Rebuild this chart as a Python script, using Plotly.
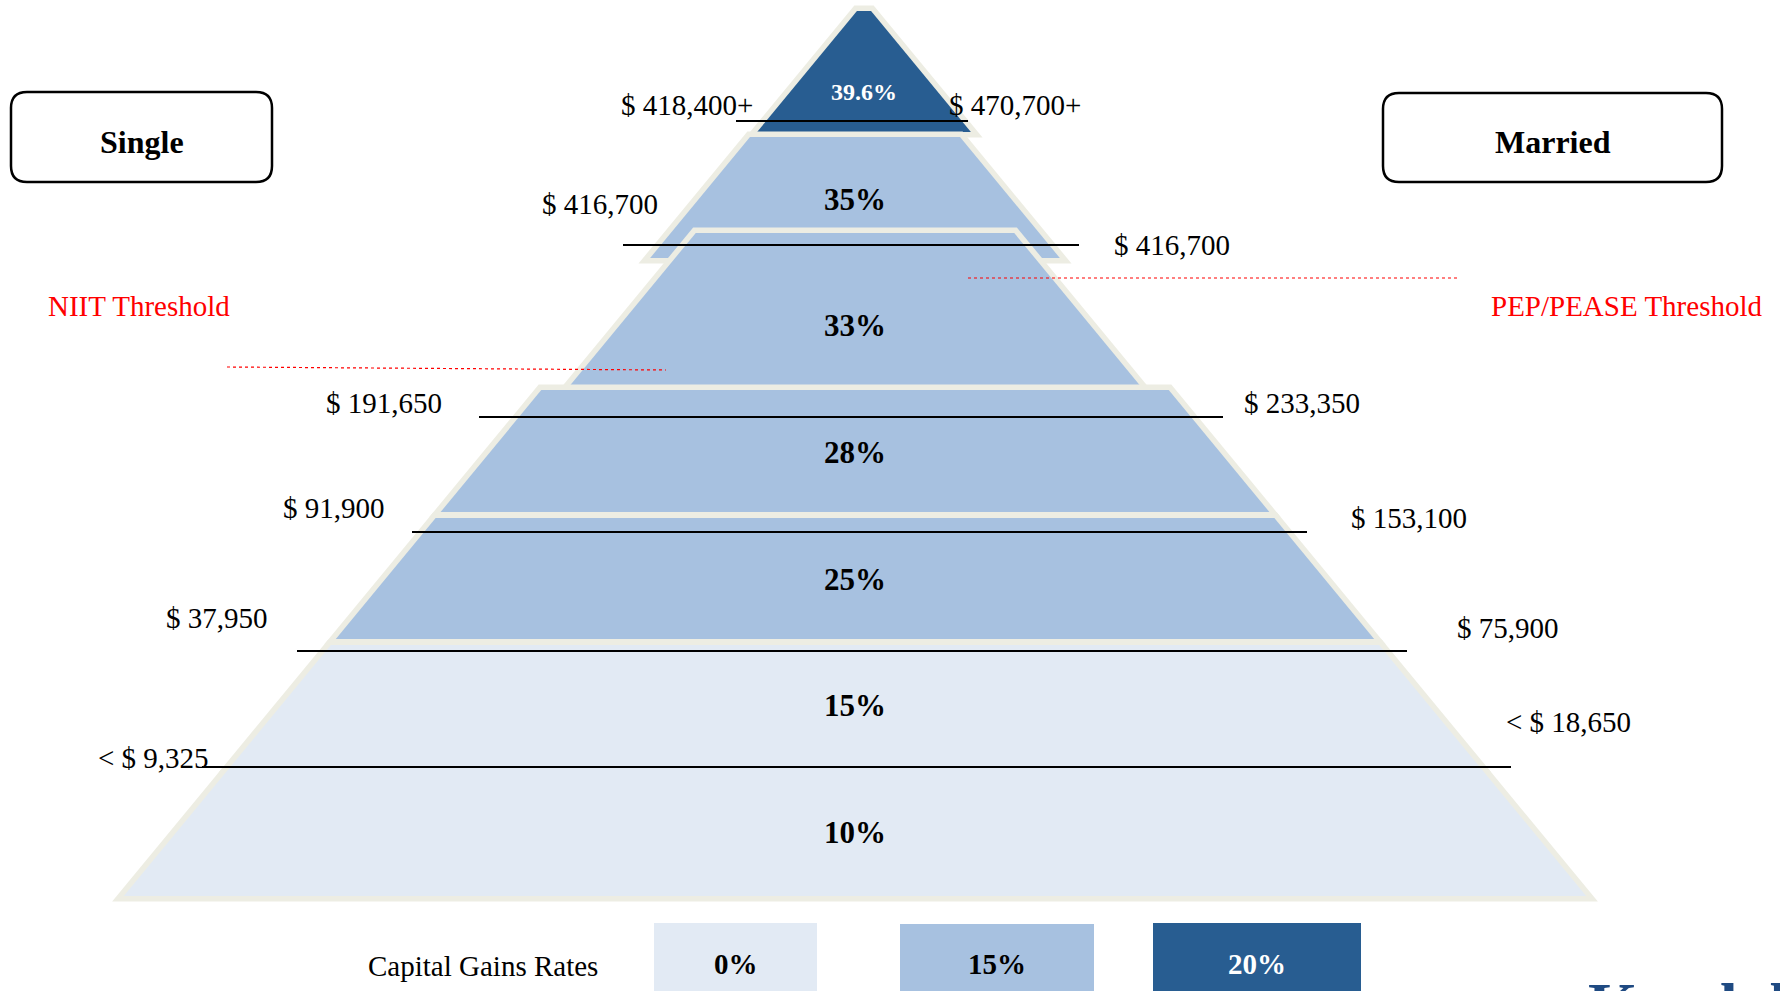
import math
import plotly.graph_objects as go

W, H = 1780, 991

# Ordinary income tax brackets, from the top of the pyramid down
RATES = ["39.6%", "35%", "33%", "28%", "25%", "15%", "10%"]
# Capital gains tier of each bracket (index into CAP_GAIN_RATES)
CAP_GAIN_TIER = [2, 1, 1, 1, 1, 0, 0]
CAP_GAIN_RATES = ["0%", "15%", "20%"]

# Bracket thresholds by filing status, top bracket first
SINGLE_THRESHOLDS = ["$ 418,400+", "$ 416,700", "$ 191,650", "$ 91,900", "$ 37,950", "< $ 9,325"]
MARRIED_THRESHOLDS = ["$ 470,700+", "$ 416,700", "$ 233,350", "$ 153,100", "$ 75,900", "< $ 18,650"]
FILING_STATUS = ["Single", "Married"]
THRESHOLD_NOTES = ["NIIT Threshold", "PEP/PEASE Threshold"]

# Styling
TIER_COLORS = ["#E2EAF4", "#A7C1E0", "#285D91"]
TIER_TEXT = ["black", "black", "white"]
CREAM = "#EDEDE3"
SERIF = "Liberation Serif, Times New Roman, serif"

# Pyramid layout (pixel space)
CX = 855
SLOPE = 0.825
APEX_Y = 9.7
PAD = 5.5
BAND_TOP = [11, 137, 233, 390, 518, 645, 767]
BAND_BOTTOM = [132, 258, 385, 512, 639, 767, 896]
BAND_SHIFT = [9, 0, 0, 0, 0, 0, 0]
BAND_WIDEN = [6, 0, -25, 0, 0, 0, 0]
RATE_LABEL_Y = [92, 199, 325, 452, 579, 705, 832]
RATE_LABEL_SIZE = [24, 31, 31, 31, 31, 31, 31]

# Threshold rules and their labels
LINE_Y = [121, 245, 417, 532, 651, 767]
LINE_LEFT = [736, 623, 479, 412, 297, 202]
LINE_RIGHT = [968, 1079, 1223, 1307, 1407, 1511]
SINGLE_LABEL_RIGHT = [755, 660, 444, 387, 270, 211]
SINGLE_LABEL_Y = [105, 204, 403, 508, 618, 758]
MARRIED_LABEL_LEFT = [947, 1112, 1242, 1349, 1455, 1504]
MARRIED_LABEL_Y = [105, 245, 403, 518, 628, 722]


def half_width(y, widen):
    return SLOPE * (y - APEX_Y) + widen


def quad(cx, yt, yb, hwt, hwb):
    return ([cx - hwt, cx + hwt, cx + hwb, cx - hwb, cx - hwt],
            [yt, yt, yb, yb, yt])


fig = go.Figure()
k = math.sqrt(1 + SLOPE ** 2)

for i, rate in enumerate(RATES):
    top, bot = BAND_TOP[i], BAND_BOTTOM[i]
    cx = CX + BAND_SHIFT[i]
    widen = BAND_WIDEN[i]
    joined = i > 0 and top == BAND_BOTTOM[i - 1]
    pt = 0 if joined else PAD
    # cream rim behind the band
    yt, yb = top - pt, bot + PAD
    xs, ys = quad(cx, yt, yb, half_width(yt, widen) + PAD * k, half_width(yb, widen) + PAD * k)
    fig.add_trace(go.Scatter(x=xs, y=ys, mode="lines", fill="toself", fillcolor=CREAM,
                             line=dict(width=0), hoverinfo="skip"))
    # band fill coloured by its capital gains tier
    xs, ys = quad(cx, top, bot, half_width(top, widen), half_width(bot, widen))
    fig.add_trace(go.Scatter(x=xs, y=ys, mode="lines", fill="toself",
                             fillcolor=TIER_COLORS[CAP_GAIN_TIER[i]],
                             line=dict(width=0), hoverinfo="skip"))

shapes = []
annotations = []

# bracket rate labels
for i, rate in enumerate(RATES):
    annotations.append(dict(x=CX + BAND_SHIFT[i], y=RATE_LABEL_Y[i], text=f"<b>{rate}</b>",
                            font=dict(family=SERIF, size=RATE_LABEL_SIZE[i],
                                      color=TIER_TEXT[CAP_GAIN_TIER[i]])))

# threshold rules
for j in range(len(LINE_Y)):
    shapes.append(dict(type="line", x0=LINE_LEFT[j], x1=LINE_RIGHT[j], y0=LINE_Y[j], y1=LINE_Y[j],
                       line=dict(color="black", width=2)))
    annotations.append(dict(x=SINGLE_LABEL_RIGHT[j], y=SINGLE_LABEL_Y[j], text=SINGLE_THRESHOLDS[j],
                            xanchor="right", font=dict(family=SERIF, size=29, color="black")))
    annotations.append(dict(x=MARRIED_LABEL_LEFT[j], y=MARRIED_LABEL_Y[j], text=MARRIED_THRESHOLDS[j],
                            xanchor="left", font=dict(family=SERIF, size=29, color="black")))

# NIIT and PEP/PEASE threshold markers
shapes.append(dict(type="line", x0=227, x1=666, y0=367, y1=370,
                   line=dict(color="red", width=1.2, dash="dot")))
shapes.append(dict(type="line", x0=968, x1=1458, y0=278, y1=278,
                   line=dict(color="red", width=1.2, dash="dot")))
annotations.append(dict(x=46, y=306, text=THRESHOLD_NOTES[0], xanchor="left",
                        font=dict(family=SERIF, size=29, color="red")))
annotations.append(dict(x=1489, y=306, text=THRESHOLD_NOTES[1], xanchor="left",
                        font=dict(family=SERIF, size=29, color="red")))


def rounded_box(x0, y0, x1, y1, r):
    return (f"M {x0 + r},{y0} H {x1 - r} Q {x1},{y0} {x1},{y0 + r} V {y1 - r} "
            f"Q {x1},{y1} {x1 - r},{y1} H {x0 + r} Q {x0},{y1} {x0},{y1 - r} "
            f"V {y0 + r} Q {x0},{y0} {x0 + r},{y0} Z")


# filing status boxes
for (x0, y0, x1, y1), status in zip([(11, 92, 272, 182), (1383, 93, 1722, 182)], FILING_STATUS):
    shapes.append(dict(type="path", path=rounded_box(x0, y0, x1, y1, 16),
                       line=dict(color="black", width=2.5), fillcolor="rgba(0,0,0,0)"))
    annotations.append(dict(x=(x0 + x1) / 2, y=(y0 + y1) / 2 + 4.5, text=f"<b>{status}</b>",
                            font=dict(family=SERIF, size=32, color="black")))

# capital gains key
annotations.append(dict(x=483, y=966, text="Capital Gains Rates",
                        font=dict(family=SERIF, size=29, color="black")))
for (x0, x1, y0), tier in zip([(654, 817, 923), (900, 1094, 924), (1153, 1361, 923)], range(3)):
    shapes.append(dict(type="rect", x0=x0, x1=x1, y0=y0, y1=H + 10, line=dict(width=0),
                       fillcolor=TIER_COLORS[tier], layer="below"))
    annotations.append(dict(x=(x0 + x1) / 2, y=964, text=f"<b>{CAP_GAIN_RATES[tier]}</b>",
                            font=dict(family=SERIF, size=29, color=TIER_TEXT[tier])))

# firm wordmark at the page foot
annotations.append(dict(x=1586, y=968, text="<b>Kendall</b>", xanchor="left", yanchor="top",
                        font=dict(family=SERIF, size=64, color="#1F4A82")))

for a in annotations:
    a.setdefault("xref", "x")
    a.setdefault("yref", "y")
    a.setdefault("showarrow", False)
for s in shapes:
    s.setdefault("xref", "x")
    s.setdefault("yref", "y")

fig.update_layout(
    width=W, height=H,
    margin=dict(l=0, r=0, t=0, b=0),
    paper_bgcolor="white", plot_bgcolor="white",
    showlegend=False,
    xaxis=dict(range=[0, W], visible=False, fixedrange=True),
    yaxis=dict(range=[H, 0], visible=False, fixedrange=True),
    shapes=shapes,
    annotations=annotations,
)

fig.write_html("out.html")
